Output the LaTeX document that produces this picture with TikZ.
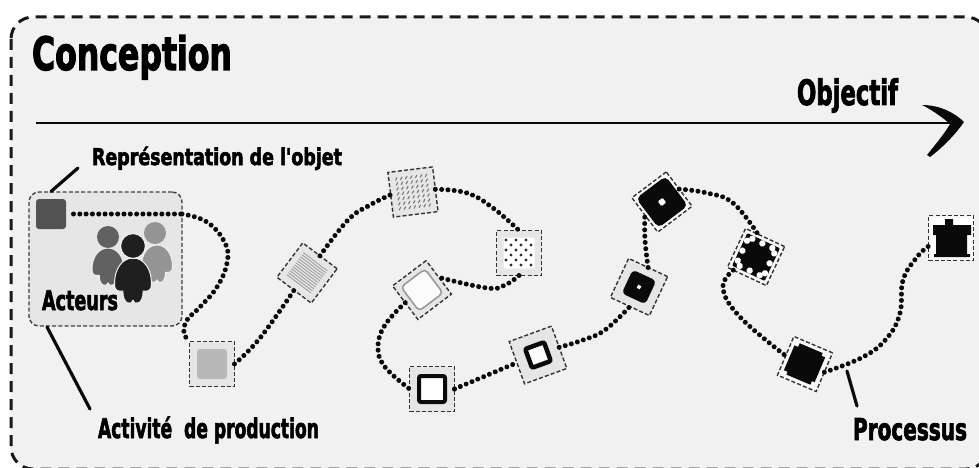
\documentclass[tikz,border=0pt]{standalone}
\usepackage{fontspec}
\usepackage{graphicx}
\newfontfamily\imp[FakeBold=2.6]{DejaVu Sans Condensed}
\definecolor{bgc}{HTML}{F1F1F1}
\definecolor{boxc}{HTML}{E6E6E6}
\definecolor{inkc}{HTML}{0A0A0A}
\newcommand{\lab}[3]{\resizebox{#1pt}{\height}{\fontsize{#2pt}{#2pt}\selectfont\imp\bfseries #3}}
\newcommand{\pbody}[5]{% cx top halfwidth height colour
  \path[fill=#5,draw=bgc,line width=1pt] (#1,#2)
   .. controls (#1+0.6*#3,#2) and (#1+#3,#2+0.25*#4) .. (#1+#3,#2+0.55*#4)
   .. controls (#1+#3,#2+0.75*#4) and (#1+0.75*#3,#2+0.72*#4) .. (#1+0.55*#3,#2+0.72*#4)
   .. controls (#1+0.55*#3,#2+1.03*#4) and (#1+0.05*#3,#2+1.03*#4) .. (#1,#2+0.92*#4)
   .. controls (#1-0.05*#3,#2+1.03*#4) and (#1-0.55*#3,#2+1.03*#4) .. (#1-0.55*#3,#2+0.72*#4)
   .. controls (#1-0.75*#3,#2+0.72*#4) and (#1-#3,#2+0.75*#4) .. (#1-#3,#2+0.55*#4)
   .. controls (#1-#3,#2+0.25*#4) and (#1-0.6*#3,#2) .. (#1,#2) -- cycle;}
\tikzset{
  every node/.style={inner sep=0pt,outer sep=0pt},
  frameline/.style={draw=black!90,fill=bgc,line width=3pt,dash pattern=on 11pt off 7pt,rounded corners=22pt},
  dotline/.style={draw=inkc,line width=5pt,line cap=round,dash pattern=on 0.01pt off 6.3pt},
  leader/.style={draw=inkc,line width=3.2pt,line cap=round},
  stagebox/.style={draw=black!80,fill=#1,line width=1.4pt,dash pattern=on 4pt off 2.2pt,minimum size=45pt,shape=rectangle},
  stagebox/.default=boxc,
  core/.style={shape=rectangle,rounded corners=3pt,minimum size=#1}
}
\begin{document}
\begin{tikzpicture}[x=1pt,y=-1pt]
\useasboundingbox (0,0) rectangle (979,468);
\fill[white] (0,0) rectangle (979,468);
\path[frameline] (11,17) rectangle (988,469);

% axis
\coordinate (axs) at (36,123);
\coordinate (axe) at (960,123);
\draw[draw=inkc,line width=2.6pt] (axs) -- (axe);
\fill[inkc] (922,105) .. controls (940,105) and (955,113) .. (964,122)
  .. controls (955,135) and (942,148) .. (930,157) -- (927,155)
  .. controls (935,145) and (945,133) .. (950,124)
  .. controls (942,117) and (932,110) .. (922,105) -- cycle;

% titles
\node[anchor=base west] (ttl) at (32,70) {\lab{200}{46}{Conception}};
\node[anchor=base west] (obj) at (797,105) {\lab{101}{35}{Objectif}};
\node[anchor=base west] (rep) at (92,165) {\lab{250}{23}{Représentation de l'objet}};
\node[anchor=base west] (apr) at (98,438) {\lab{221}{27}{Activité\ \ de production}};
\node[anchor=base west] (prc) at (853,440) {\lab{114}{30}{Processus}};

% activity box
\node[draw=black!75,fill=boxc,line width=1.4pt,dash pattern=on 4pt off 2.2pt,rounded corners=10pt,minimum width=153pt,minimum height=134pt] (act) at (105.5,259) {};

% stages
\node[stagebox=bgc,draw=none,fill=none] (n0) at (51,214) {};
\node[stagebox] (n1) at (212,364) {};
\node[stagebox,rotate=-37,minimum size=43pt] (n2) at (307,273) {};
\node[stagebox,rotate=7] (n3) at (413,192) {};
\node[stagebox] (n4) at (519,253) {};
\node[stagebox,rotate=37,minimum size=42pt] (n5) at (422,290) {};
\node[stagebox] (n6) at (432,389) {};
\node[stagebox,rotate=20] (n7) at (538,355) {};
\node[stagebox,rotate=-25,minimum size=43pt] (n8) at (639,287) {};
\node[stagebox=white!50!bgc,rotate=37,minimum size=43pt] (n9) at (662,202) {};
\node[stagebox=white!50!bgc,rotate=-25,minimum size=43pt] (n10) at (756,257) {};
\node[stagebox=white!50!bgc,rotate=-23,minimum size=42pt] (n11) at (805,364) {};
\node[stagebox=white!50!bgc,minimum size=45pt] (n12) at (951,238) {};

% connectors
\draw[dotline] (n0.east) -- (182,214) plot[smooth,tension=.7] coordinates {(182,214) (207,222) (225,243) (227,263) (217,287) (200,307) (187,320) (184,333) (n1.north west)};
\draw[dotline] plot[smooth,tension=.7] coordinates {(n1.east) (260,338) (n2.south)};
\draw[dotline] plot[smooth,tension=.7] coordinates {(n2.north) (348,220) (370,205) (n3.west)};
\draw[dotline] plot[smooth,tension=.7] coordinates {(n3.east) (467,193) (493,208) (n4.north)};
\draw[dotline] plot[smooth,tension=.7] coordinates {(n4.south) (505,285) (487,288) (n5.east)};
\draw[dotline] plot[smooth,tension=.7] coordinates {(n5.west) (385,325) (378,347) (385,367) (n6.west)};
\draw[dotline] plot[smooth,tension=.7] coordinates {(n6.east) (490,374) (n7.west)};
\draw[dotline] plot[smooth,tension=.7] coordinates {(n7.east) (583,340) (605,330) (n8.south)};
\draw[dotline] plot[smooth,tension=.7] coordinates {(n8.north) (645,240) (n9.west)};
\draw[dotline] plot[smooth,tension=.7] coordinates {(n9.east) (707,193) (733,203) (n10.110)};
\draw[dotline] plot[smooth,tension=.7] coordinates {(n10.235) (723,288) (740,317) (n11.west)};
\draw[dotline] plot[smooth,tension=.7] coordinates {(n11.east) (863,357) (887,338) (900,313) (903,280) (917,257) (n12.200)};

% leaders
\coordinate (l1) at (78,168);
\coordinate (l2) at (47,327);
\coordinate (l3) at (90,409);
\coordinate (l4) at (847,371);
\coordinate (l5) at (857,406);
\draw[leader] (l1) -- (n0.north);
\draw[leader] (l2) -- (l3);
\draw[leader] (l4) -- (l5);

% stage interiors
\node[core=30pt,fill=black!68] (c0) at (n0) {};
\node[core=30pt,fill=black!28] (c1) at (n1) {};
\begin{scope}[shift={(n2)},rotate=-37]
  \foreach \d in {-14,-11.5,...,14.5} \draw[black!40,line width=.8pt] (-15,\d) -- (15,\d);
\end{scope}
\begin{scope}[shift={(n3)},rotate=7]
  \foreach \a in {-15,-10,...,15} \foreach \b in {-15,-10,...,15}
    \draw[black!55,line width=1pt] (\a-1,\b+1.4) -- (\a+1,\b-1.4);
\end{scope}
\node[core=31pt,fill=white,rounded corners=1pt] (c4) at (n4) {};
\begin{scope}[shift={(n4)}]
  \foreach \a in {-13,-3,7} \foreach \b in {-13,-3,7} \fill[inkc!85!white] (\a,\b) circle (1.6);
  \foreach \a in {-8,2,12} \foreach \b in {-8,2,12} \fill[inkc!85!white] (\a,\b) circle (1.6);
\end{scope}
\node[core=30pt,fill=white!70!bgc,draw=black!40,line width=1.6pt,rotate=37,rounded corners=4pt] (c5) at (n5) {};
\node[core=26pt,fill=white,draw=inkc,line width=4pt,rounded corners=2pt] (c6) at (n6) {};
\node[core=20pt,fill=white!70!bgc,draw=inkc,line width=4.5pt,rotate=20,rounded corners=2pt] (c7) at (n7) {};
\node[core=26pt,fill=inkc,rotate=-25,rounded corners=4pt] (c8) at (n8) {};
\node[core=3.5pt,fill=white,rotate=-25,rounded corners=0pt] (d8) at (n8) {};
\node[core=37pt,fill=inkc,rotate=37,rounded corners=5pt] (c9) at (n9) {};
\node[core=6pt,fill=white,rotate=37,rounded corners=1pt] (d9) at (n9) {};
\node[core=36pt,fill=inkc,rotate=-25,rounded corners=1pt] (c10) at (n10) {};
\begin{scope}[shift={(n10)},rotate=-25]
  \foreach \a in {-11,0,11} {
    \fill[white] (\a,-15) circle (3.2);
    \fill[white] (\a,15) circle (3.2);
    \fill[white] (-15,\a) circle (3.2);
    \fill[white] (15,\a) circle (3.2);}
\end{scope}
\begin{scope}[shift={(n11)},rotate=-23]
  \fill[inkc] (-13,-17) -- (12,-17) -- (12,-14) -- (16,-14) -- (16,13) -- (13,13) -- (13,17)
     -- (-13,17) -- (-13,14) -- (-17,14) -- (-17,-13) -- (-13,-13) -- cycle;
\end{scope}
\node[core=40pt,fill=white,rounded corners=1pt] (c12) at (n12) {};
\begin{scope}[shift={(n12)}]
  \fill[inkc] (-6,-19) -- (2,-19) -- (2,-13) -- (20,-13) -- (20,-3) -- (16,-3) -- (16,16) -- (19,16) -- (19,19)
    -- (-17,19) -- (-17,16) -- (-15,16) -- (-15,-3) -- (-18,-3) -- (-18,-13) -- (-6,-13) -- cycle;
\end{scope}

% people
\pbody{108}{248}{16}{38}{black!62}
\fill[black!62] (108,237) circle (11);
\pbody{157}{245}{15.5}{38}{black!42}
\fill[black!42] (155,233) circle (11);
\pbody{133}{258}{18.5}{46}{black!88}
\path[fill=black!88,draw=bgc,line width=1.2pt] (133,246) circle (12.5);
\node[anchor=base west] (actr) at (42,310) {\lab{76}{27}{Acteurs}};
\end{tikzpicture}
\end{document}
